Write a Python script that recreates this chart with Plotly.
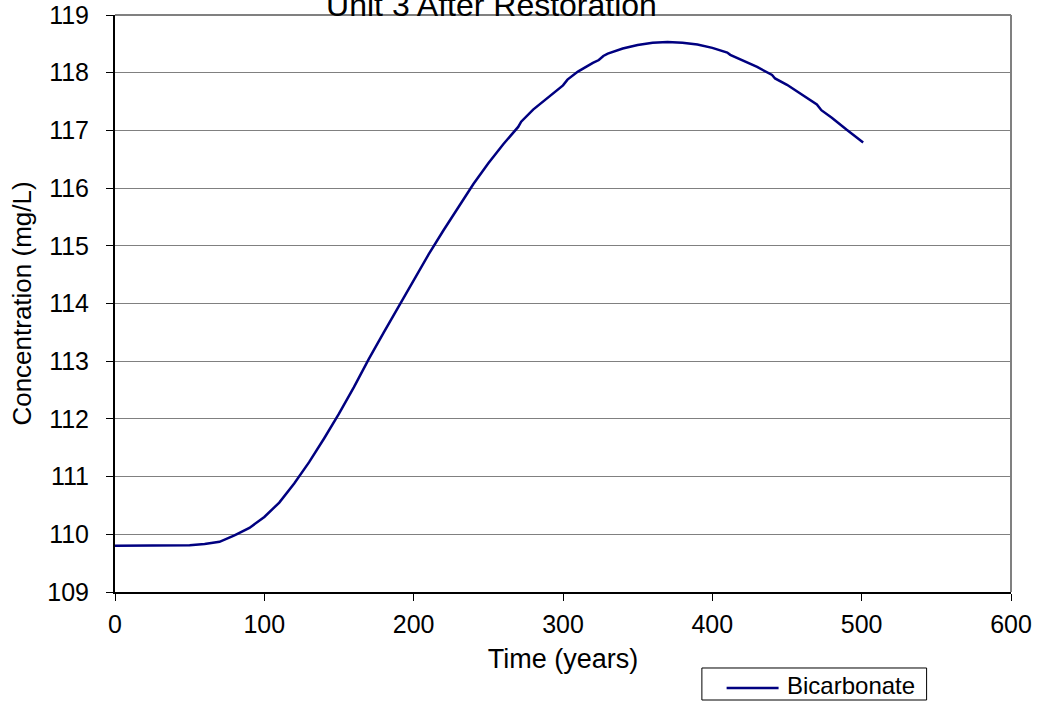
import plotly.graph_objects as go

# Bicarbonate concentration in Unit 3 after restoration
time_years = [0, 10, 20, 30, 40, 50, 60, 70, 80, 90, 100, 110, 120, 130, 140,
              150, 160, 170, 180, 190, 200, 210, 220, 230, 240, 250, 260, 270,
              272, 280, 290, 300, 303, 310, 320, 324, 327, 330, 340, 350, 360,
              370, 380, 390, 400, 410, 412, 420, 430, 440, 442, 450, 460, 470,
              473, 480, 490, 501]
bicarbonate_mg_l = [109.80, 109.80, 109.80, 109.80, 109.80, 109.81, 109.83,
                    109.87, 109.98, 110.11, 110.30, 110.55, 110.88, 111.25,
                    111.66, 112.09, 112.55, 113.04, 113.50, 113.95, 114.40,
                    114.85, 115.27, 115.68, 116.07, 116.43, 116.76, 117.06,
                    117.15, 117.36, 117.57, 117.78, 117.88, 118.02, 118.17,
                    118.22, 118.29, 118.33, 118.42, 118.48, 118.52, 118.53,
                    118.52, 118.49, 118.43, 118.35, 118.31, 118.22, 118.10,
                    117.96, 117.90, 117.79, 117.62, 117.45, 117.35, 117.22,
                    117.01, 116.79]

x_ticks = [0, 100, 200, 300, 400, 500, 600]
y_ticks = [109, 110, 111, 112, 113, 114, 115, 116, 117, 118, 119]

SERIES_NAME = "Bicarbonate"
SERIES_COLOR = "#000080"
FONT = "Liberation Sans, Arial, sans-serif"

fig = go.Figure()
fig.add_trace(go.Scatter(
    x=time_years, y=bicarbonate_mg_l, mode="lines", name=SERIES_NAME,
    line=dict(color=SERIES_COLOR, width=2.5), showlegend=False,
))

# Boxed legend below the plot, to the right of the axis title
legend_shapes = [
    dict(type="rect", xref="paper", yref="paper",
         x0=0.655, x1=0.9058, y0=-0.1872, y1=-0.1317,
         line=dict(color="black", width=1), fillcolor="white"),
    dict(type="line", xref="paper", yref="paper",
         x0=0.6826, x1=0.7406, y0=-0.1664, y1=-0.1664,
         line=dict(color=SERIES_COLOR, width=2.5)),
]
legend_text = dict(text=SERIES_NAME, xref="paper", yref="paper",
                   x=0.7475, y=-0.1629, xanchor="left", yanchor="middle",
                   showarrow=False,
                   font=dict(family=FONT, size=24, color="black"))

fig.update_layout(
    width=1038, height=709,
    margin=dict(l=114.5, r=26.5, t=15, b=117, pad=0, autoexpand=False),
    paper_bgcolor="white", plot_bgcolor="white",
    font=dict(family=FONT, color="black", size=24),
    title=dict(text="Unit 3 After Restoration", x=0.4735, xanchor="center",
               y=0.993, yanchor="middle",
               font=dict(family=FONT, size=32, color="black")),
    showlegend=False,
    annotations=[legend_text],
    shapes=[
        # plot area frame (top and right sides)
        dict(type="line", xref="paper", yref="paper", x0=0, x1=1, y0=1, y1=1,
             line=dict(color="#808080", width=2)),
        dict(type="line", xref="paper", yref="paper", x0=1, x1=1, y0=0, y1=1,
             line=dict(color="#808080", width=2)),
    ] + legend_shapes,
)

fig.update_xaxes(
    range=[0, 600], tickvals=x_ticks, ticktext=[str(v) for v in x_ticks],
    showgrid=False, zeroline=False,
    showline=True, linecolor="black", linewidth=2,
    ticks="outside", ticklen=7, tickcolor="black", tickwidth=1,
    ticklabelstandoff=2,
    tickfont=dict(family=FONT, size=25, color="black"),
    title=dict(text="Time (years)", standoff=12,
               font=dict(family=FONT, size=27, color="black")),
)
fig.update_yaxes(
    range=[109, 119], tickvals=y_ticks, ticktext=[str(v) for v in y_ticks],
    showgrid=True, gridcolor="#808080", gridwidth=1, zeroline=False,
    showline=True, linecolor="black", linewidth=2,
    ticks="outside", ticklen=7, tickcolor="black", tickwidth=1,
    ticklabelstandoff=12,
    tickfont=dict(family=FONT, size=25, color="black"),
    title=dict(text="Concentration (mg/L)", standoff=8,
               font=dict(family=FONT, size=26, color="black")),
)

fig.write_html("out.html")
